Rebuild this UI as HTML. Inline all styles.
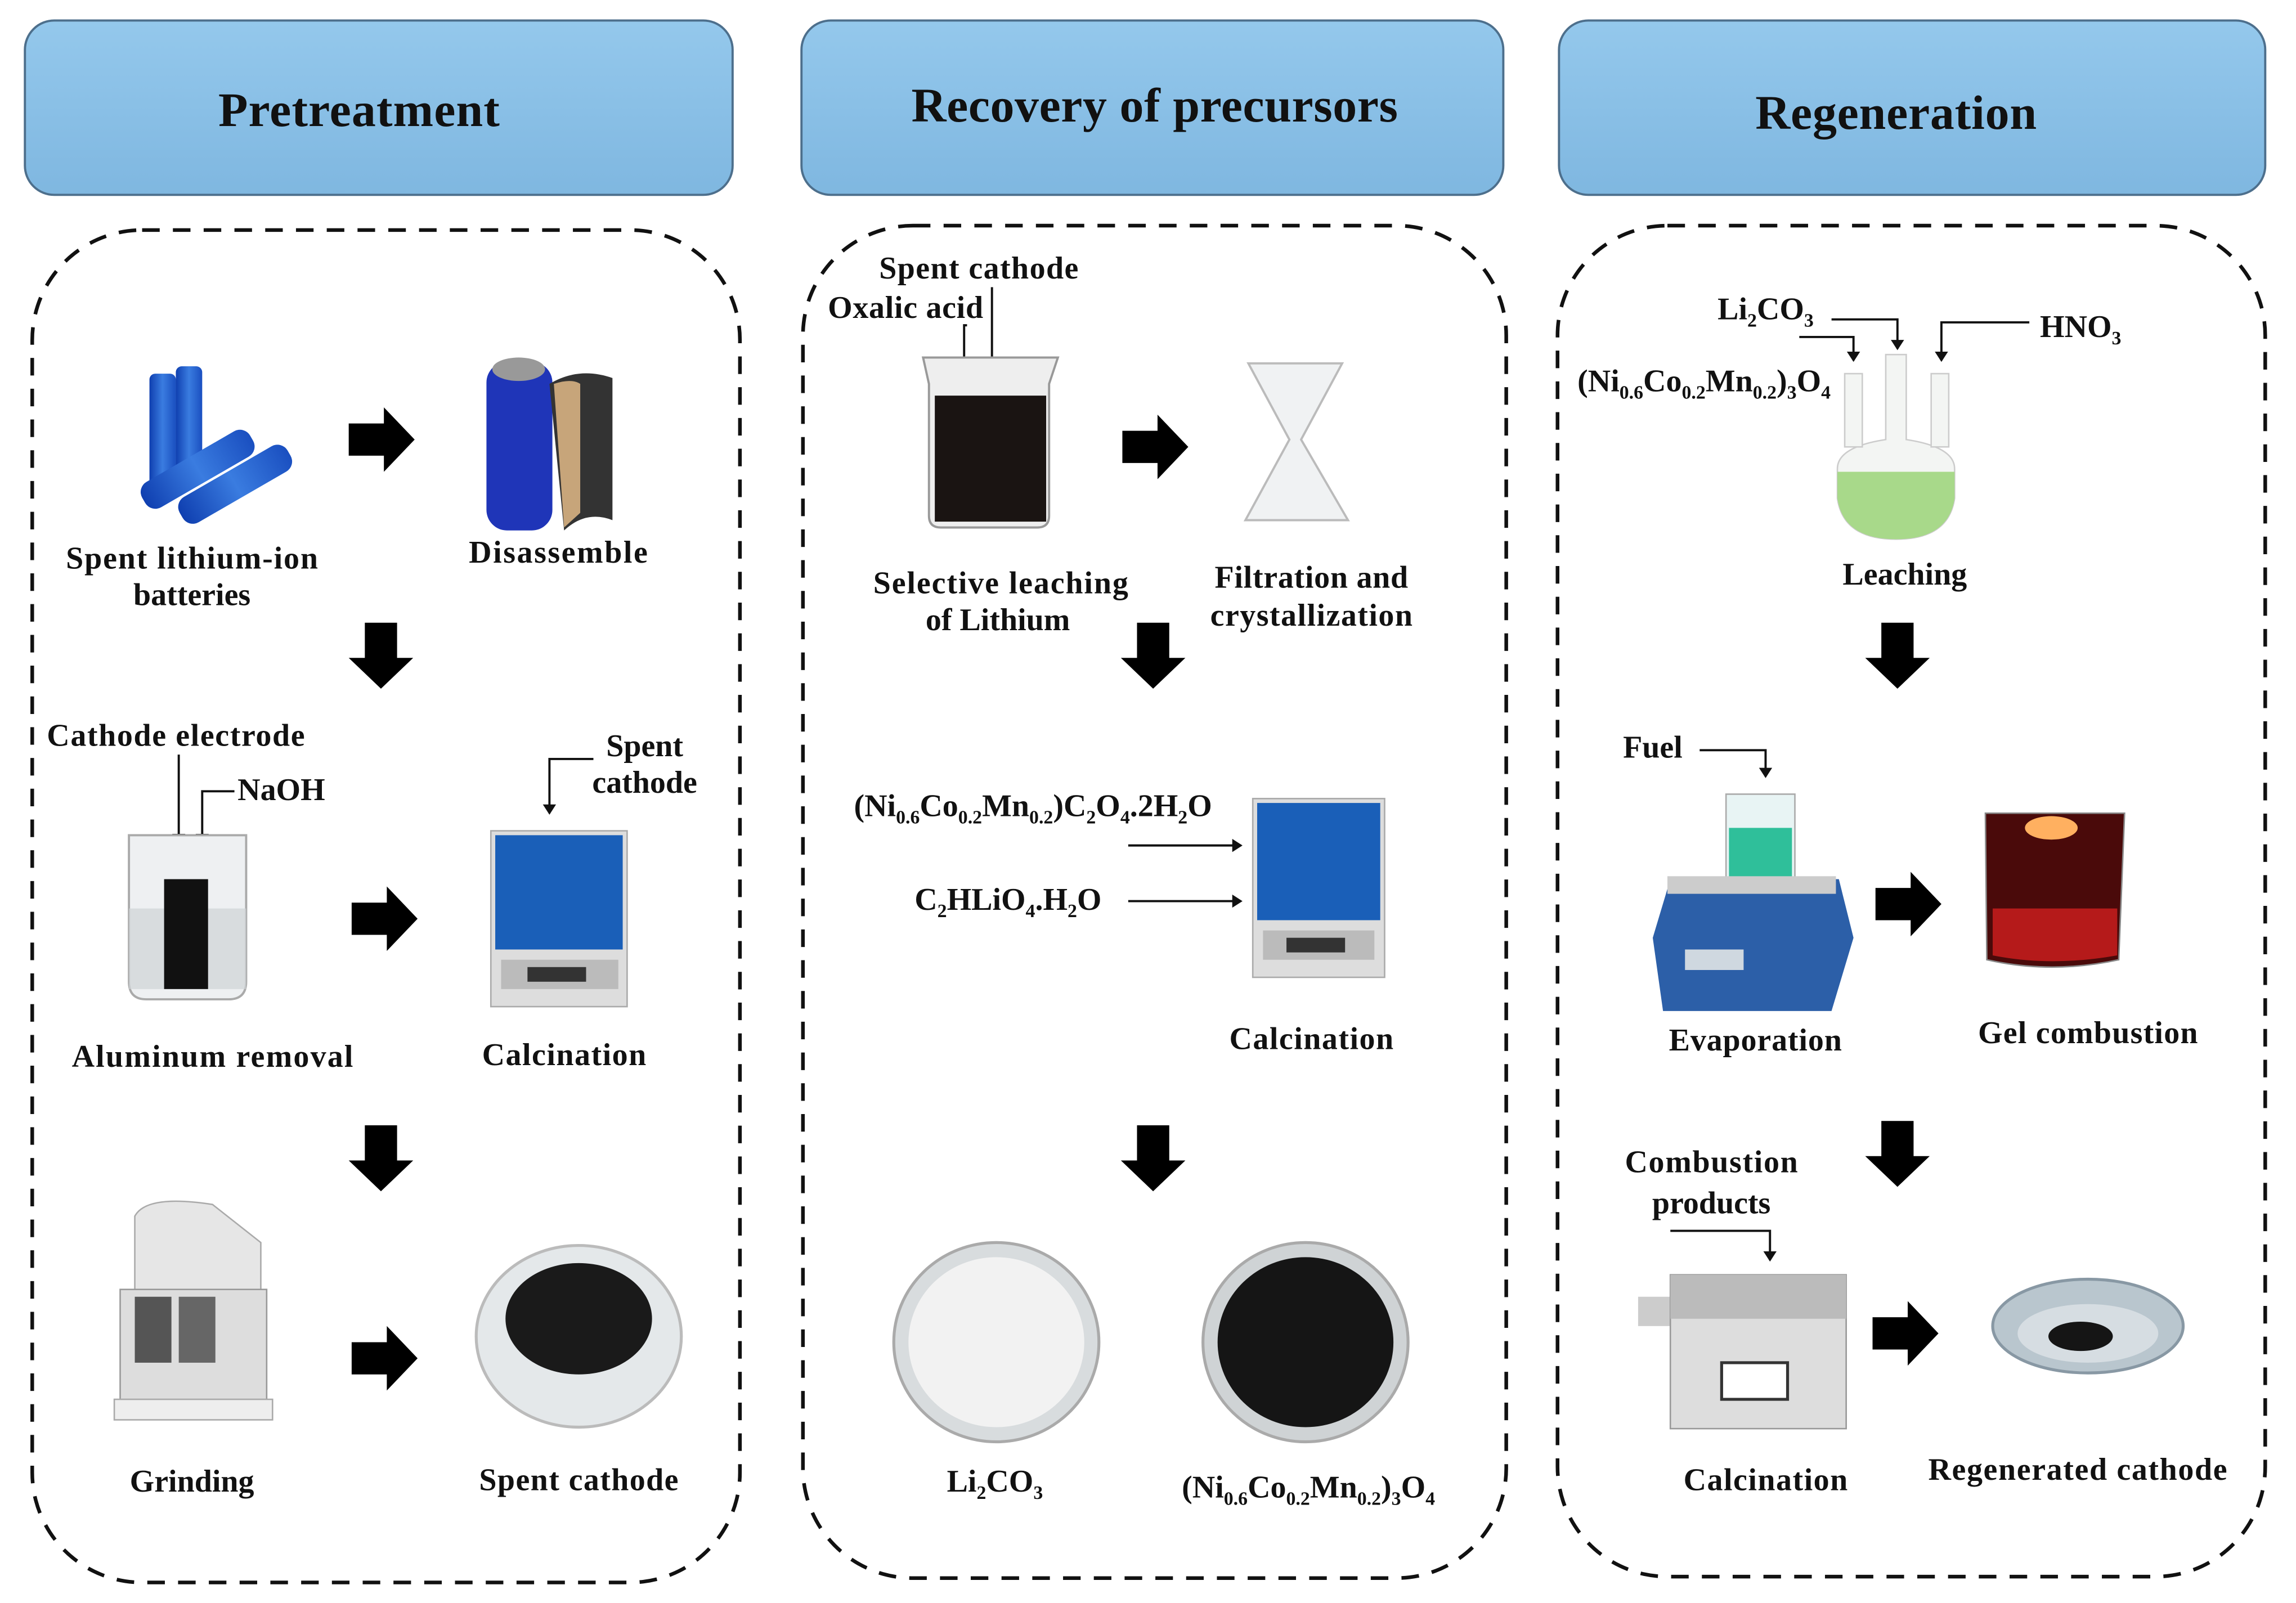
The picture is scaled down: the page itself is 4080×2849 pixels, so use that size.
<!DOCTYPE html>
<html><head><meta charset="utf-8">
<style>
html,body{margin:0;padding:0;background:#fff;}
svg{display:block;}
text{font-family:"Liberation Serif",serif;font-weight:bold;fill:#111;}
</style></head>
<body>
<svg width="4080" height="2849" viewBox="0 0 1567 1094" preserveAspectRatio="none" xmlns="http://www.w3.org/2000/svg">
<defs>
<marker id="ah" markerWidth="7" markerHeight="9" refX="6" refY="4.5" orient="auto" markerUnits="userSpaceOnUse"><path d="M0,0 L7,4.5 L0,9 z" fill="#111"/></marker>
<g id="ar"><path d="M0,-11 H24 V-22 L45,0 L24,22 V11 H0 z" fill="#000"/></g>
<g id="ad"><path d="M-11,0 V24 H-22 L0,45 L22,24 H11 V0 z" fill="#000"/></g>
<linearGradient id="hdr" x1="0" y1="0" x2="0" y2="1"><stop offset="0" stop-color="#94c8ec"/><stop offset="1" stop-color="#7fb7e0"/></linearGradient>
<linearGradient id="blue" x1="0" y1="0" x2="1" y2="0"><stop offset="0" stop-color="#0f3fb0"/><stop offset=".5" stop-color="#3a7ce0"/><stop offset="1" stop-color="#1a4fc0"/></linearGradient>
</defs>

<rect x="17" y="14" width="483" height="119" rx="20" fill="url(#hdr)" stroke="#4d6f8c" stroke-width="1.5"/>
<rect x="547" y="14" width="479" height="119" rx="20" fill="url(#hdr)" stroke="#4d6f8c" stroke-width="1.5"/>
<rect x="1064" y="14" width="482" height="119" rx="20" fill="url(#hdr)" stroke="#4d6f8c" stroke-width="1.5"/>
<g font-size="33">
<text x="245" y="86" text-anchor="middle" textLength="192">Pretreatment</text>
<text x="788" y="83" text-anchor="middle" textLength="332">Recovery of precursors</text>
<text x="1294" y="88" text-anchor="middle" textLength="192">Regeneration</text>
</g>

<g fill="none" stroke="#111" stroke-width="2.5" stroke-dasharray="12,9">
<rect x="22" y="157" width="483" height="923" rx="75"/>
<rect x="548" y="154" width="480" height="923" rx="75"/>
<rect x="1063" y="154" width="483" height="922" rx="75"/>
</g>

<g font-size="21.5">
<!-- LEFT -->
<rect x="102" y="255" width="18" height="80" rx="4" fill="url(#blue)"/>
<rect x="120" y="250" width="18" height="80" rx="4" fill="url(#blue)"/>
<g transform="rotate(-30 118 330)"><rect x="95" y="320" width="85" height="20" rx="8" fill="url(#blue)"/></g>
<g transform="rotate(-30 140 340)"><rect x="120" y="332" width="85" height="20" rx="8" fill="url(#blue)"/></g>
<use href="#ar" x="238" y="300"/>
<rect x="332" y="247" width="45" height="115" rx="14" fill="#1f35b8"/>
<ellipse cx="354" cy="252" rx="18" ry="8" fill="#999"/>
<path d="M375,262 Q395,250 418,258 V355 Q400,348 385,362 Z" fill="#333"/>
<path d="M378,262 Q390,258 396,262 V350 L385,360 Z" fill="#c7a57a"/>
<text x="131" y="388" text-anchor="middle" textLength="172">Spent lithium-ion</text>
<text x="131" y="413" text-anchor="middle">batteries</text>
<text x="381" y="384" text-anchor="middle" textLength="122">Disassemble</text>
<use href="#ad" x="260" y="425"/>

<text x="120" y="509" text-anchor="middle" textLength="176">Cathode electrode</text>
<text x="192" y="546" text-anchor="middle">NaOH</text>
<line x1="122" y1="515" x2="122" y2="575" stroke="#111" stroke-width="1.5" marker-end="url(#ah)"/>
<path d="M160,540 H138 V575" fill="none" stroke="#111" stroke-width="1.5" marker-end="url(#ah)"/>
<path d="M88,570 H168 V670 Q168,682 156,682 H100 Q88,682 88,670 Z" fill="#eef0f2" stroke="#aaa" stroke-width="1.5"/>
<rect x="88" y="620" width="80" height="55" fill="#cfd3d6" opacity=".7"/>
<rect x="112" y="600" width="30" height="75" fill="#111"/>
<use href="#ar" x="240" y="627"/>
<rect x="335" y="567" width="93" height="120" fill="#ddd" stroke="#aaa"/>
<rect x="338" y="570" width="87" height="78" fill="#1a5fb8"/>
<rect x="342" y="655" width="80" height="20" fill="#bbb"/>
<rect x="360" y="660" width="40" height="10" fill="#333"/>
<text x="440" y="516" text-anchor="middle">Spent</text>
<text x="440" y="541" text-anchor="middle">cathode</text>
<path d="M405,518 H375 V555" fill="none" stroke="#111" stroke-width="1.5" marker-end="url(#ah)"/>
<text x="145" y="728" text-anchor="middle" textLength="192">Aluminum removal</text>
<text x="385" y="727" text-anchor="middle" textLength="112">Calcination</text>
<use href="#ad" x="260" y="768"/>
<path d="M92,830 Q100,815 145,822 L178,848 V900 H92 Z" fill="#e6e6e6" stroke="#aaa"/>
<rect x="82" y="880" width="100" height="80" fill="#ddd" stroke="#999"/>
<rect x="92" y="885" width="25" height="45" fill="#555"/>
<rect x="122" y="885" width="25" height="45" fill="#666"/>
<rect x="78" y="955" width="108" height="14" fill="#eee" stroke="#aaa"/>
<use href="#ar" x="240" y="927"/>
<ellipse cx="395" cy="912" rx="70" ry="62" fill="#e4e8ea" stroke="#bbb" stroke-width="2"/>
<ellipse cx="395" cy="900" rx="50" ry="38" fill="#1a1a1a"/>
<text x="131" y="1018" text-anchor="middle">Grinding</text>
<text x="395" y="1017" text-anchor="middle" textLength="136">Spent cathode</text>

<!-- MIDDLE -->
<text x="668" y="190" text-anchor="middle" textLength="136">Spent cathode</text>
<text x="618" y="217" text-anchor="middle" textLength="106">Oxalic acid</text>
<line x1="677" y1="196" x2="677" y2="250" stroke="#111" stroke-width="1.5" marker-end="url(#ah)"/>
<path d="M660,222 H658 V250" fill="none" stroke="#111" stroke-width="1.5" marker-end="url(#ah)"/>
<path d="M630,244 H722 L716,262 V352 Q716,360 708,360 H642 Q634,360 634,352 V262 Z" fill="#eee" stroke="#999" stroke-width="1.5"/>
<rect x="638" y="270" width="76" height="86" fill="#1a1412"/>
<use href="#ar" x="766" y="305"/>
<path d="M852,248 H916 L888,300 L920,355 H850 L880,300 Z" fill="#f0f2f3" stroke="#bbb" stroke-width="1.5"/>
<text x="683" y="405" text-anchor="middle" textLength="174">Selective leaching</text>
<text x="681" y="430" text-anchor="middle">of Lithium</text>
<text x="895" y="401" text-anchor="middle" textLength="132">Filtration and</text>
<text x="895" y="427" text-anchor="middle" textLength="138">crystallization</text>
<use href="#ad" x="787" y="425"/>
<text x="705" y="557" text-anchor="middle">(Ni<tspan font-size="13" dy="5">0.6</tspan><tspan dy="-5">Co</tspan><tspan font-size="13" dy="5">0.2</tspan><tspan dy="-5">Mn</tspan><tspan font-size="13" dy="5">0.2</tspan><tspan dy="-5">)C</tspan><tspan font-size="13" dy="5">2</tspan><tspan dy="-5">O</tspan><tspan font-size="13" dy="5">4</tspan><tspan dy="-5">.2H</tspan><tspan font-size="13" dy="5">2</tspan><tspan dy="-5">O</tspan></text>
<line x1="770" y1="577" x2="847" y2="577" stroke="#111" stroke-width="1.5" marker-end="url(#ah)"/>
<text x="688" y="621" text-anchor="middle">C<tspan font-size="13" dy="5">2</tspan><tspan dy="-5">HLiO</tspan><tspan font-size="13" dy="5">4</tspan><tspan dy="-5">.H</tspan><tspan font-size="13" dy="5">2</tspan><tspan dy="-5">O</tspan></text>
<line x1="770" y1="615" x2="847" y2="615" stroke="#111" stroke-width="1.5" marker-end="url(#ah)"/>
<rect x="855" y="545" width="90" height="122" fill="#ddd" stroke="#aaa"/>
<rect x="858" y="548" width="84" height="80" fill="#1a5fb8"/>
<rect x="862" y="635" width="76" height="20" fill="#bbb"/>
<rect x="878" y="640" width="40" height="10" fill="#333"/>
<text x="895" y="716" text-anchor="middle" textLength="112">Calcination</text>
<use href="#ad" x="787" y="768"/>
<ellipse cx="680" cy="916" rx="70" ry="68" fill="#d8dcde" stroke="#aaa" stroke-width="2"/>
<ellipse cx="680" cy="916" rx="60" ry="58" fill="#f2f2f2"/>
<ellipse cx="891" cy="916" rx="70" ry="68" fill="#cfd3d5" stroke="#aaa" stroke-width="2"/>
<ellipse cx="891" cy="916" rx="60" ry="58" fill="#151515"/>
<text x="679" y="1018" text-anchor="middle">Li<tspan font-size="13" dy="5">2</tspan><tspan dy="-5">CO</tspan><tspan font-size="13" dy="5">3</tspan></text>
<text x="893" y="1022" text-anchor="middle">(Ni<tspan font-size="13" dy="5">0.6</tspan><tspan dy="-5">Co</tspan><tspan font-size="13" dy="5">0.2</tspan><tspan dy="-5">Mn</tspan><tspan font-size="13" dy="5">0.2</tspan><tspan dy="-5">)</tspan><tspan font-size="13" dy="5">3</tspan><tspan dy="-5">O</tspan><tspan font-size="13" dy="5">4</tspan></text>

<!-- RIGHT -->
<text x="1205" y="218" text-anchor="middle">Li<tspan font-size="13" dy="5">2</tspan><tspan dy="-5">CO</tspan><tspan font-size="13" dy="5">3</tspan></text>
<path d="M1250,218 H1295 V238" fill="none" stroke="#111" stroke-width="1.5" marker-end="url(#ah)"/>
<text x="1420" y="230" text-anchor="middle">HNO<tspan font-size="13" dy="5">3</tspan></text>
<path d="M1385,220 H1325 V246" fill="none" stroke="#111" stroke-width="1.5" marker-end="url(#ah)"/>
<path d="M1228,230 H1265 V246" fill="none" stroke="#111" stroke-width="1.5" marker-end="url(#ah)"/>
<text x="1163" y="267" text-anchor="middle">(Ni<tspan font-size="13" dy="5">0.6</tspan><tspan dy="-5">Co</tspan><tspan font-size="13" dy="5">0.2</tspan><tspan dy="-5">Mn</tspan><tspan font-size="13" dy="5">0.2</tspan><tspan dy="-5">)</tspan><tspan font-size="13" dy="5">3</tspan><tspan dy="-5">O</tspan><tspan font-size="13" dy="5">4</tspan></text>
<path d="M1287,242 H1301 V300 Q1334,305 1334,320 L1334,340 Q1330,368 1294,368 Q1258,368 1254,340 L1254,320 Q1254,305 1287,300 Z" fill="#f3f5f3" stroke="#ccc"/>
<rect x="1259" y="255" width="12" height="50" fill="#f3f5f3" stroke="#ccc"/>
<rect x="1318" y="255" width="12" height="50" fill="#f3f5f3" stroke="#ccc"/>
<path d="M1254,322 H1334 V340 Q1330,368 1294,368 Q1258,368 1254,340 Z" fill="#a8d98a"/>
<text x="1300" y="399" text-anchor="middle">Leaching</text>
<use href="#ad" x="1295" y="425"/>
<text x="1128" y="517" text-anchor="middle">Fuel</text>
<path d="M1160,512 H1205 V530" fill="none" stroke="#111" stroke-width="1.5" marker-end="url(#ah)"/>
<path d="M1178,542 H1225 V600 H1178 Z" fill="#e8f4f4" stroke="#aaa"/>
<rect x="1180" y="565" width="43" height="34" fill="#2fbf9a"/>
<path d="M1140,600 H1255 L1265,640 L1250,690 H1135 L1128,640 Z" fill="#2c5fa8"/>
<rect x="1138" y="598" width="115" height="12" fill="#ccc"/>
<rect x="1150" y="648" width="40" height="14" fill="#cfd8e0"/>
<text x="1198" y="717" text-anchor="middle" textLength="118">Evaporation</text>
<use href="#ar" x="1280" y="617"/>
<path d="M1355,555 H1450 L1446,655 Q1400,665 1356,655 Z" fill="#4a0a0a" stroke="#888"/>
<path d="M1360,620 H1445 V652 Q1400,660 1360,652 Z" fill="#b51a1a"/>
<ellipse cx="1400" cy="565" rx="18" ry="8" fill="#ffb060"/>
<text x="1425" y="712" text-anchor="middle" textLength="150">Gel combustion</text>
<use href="#ad" x="1295" y="765"/>
<text x="1168" y="800" text-anchor="middle" textLength="118">Combustion</text>
<text x="1168" y="828" text-anchor="middle">products</text>
<path d="M1140,840 H1208 V860" fill="none" stroke="#111" stroke-width="1.5" marker-end="url(#ah)"/>
<rect x="1118" y="885" width="22" height="20" fill="#ccc"/>
<rect x="1140" y="870" width="120" height="105" fill="#ddd" stroke="#999"/>
<rect x="1140" y="870" width="120" height="30" fill="#bbb"/>
<rect x="1175" y="930" width="45" height="25" fill="#fff" stroke="#333" stroke-width="2"/>
<use href="#ar" x="1278" y="910"/>
<ellipse cx="1425" cy="905" rx="65" ry="32" fill="#b9c6ce" stroke="#8898a4" stroke-width="2"/>
<ellipse cx="1425" cy="910" rx="48" ry="20" fill="#d6dde2"/>
<ellipse cx="1420" cy="912" rx="22" ry="10" fill="#151515"/>
<text x="1205" y="1017" text-anchor="middle" textLength="112">Calcination</text>
<text x="1418" y="1010" text-anchor="middle" textLength="204">Regenerated cathode</text>
</g>
</svg>
</body></html>
